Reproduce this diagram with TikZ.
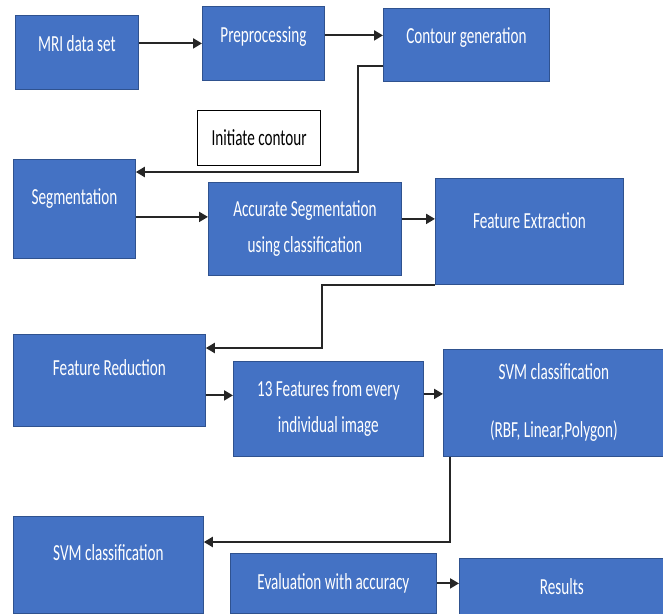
\documentclass[tikz,border=0pt]{standalone}
\usepackage{fontspec}
\setmainfont{Carlito}[FakeStretch=0.66]
\usetikzlibrary{arrows.meta}
\definecolor{boxblue}{HTML}{4472C4}
\definecolor{boxedge}{HTML}{2F528F}

\begin{document}
\begin{tikzpicture}[x=1pt, y=-1pt,
  font=\fontsize{23}{36}\selectfont,
  blk/.style={anchor=north west, draw=boxedge, line width=0.8pt, fill=boxblue, text=white, align=center, inner sep=2pt},
  lifted/.style={text height=17pt, text depth=#1},
  lifted/.default=20pt,
  flow/.style={-{Triangle[length=9pt,width=10pt]}, line width=2pt, draw=black!85}]
\useasboundingbox (0,0) rectangle (663,613);

\node(A) [blk, lifted=18pt, minimum width=123pt, minimum height=74pt] at (15,15) {MRI data set};
\node(B) [blk, lifted=18pt, minimum width=122pt, minimum height=74pt] at (202,6) {Preprocessing};
\node(C) [blk, lifted=19pt, minimum width=166pt, minimum height=73pt] at (383,8) {Contour generation};
\node(D) [anchor=north west, draw=black, line width=1.2pt, fill=white, minimum width=123pt, minimum height=55pt] at (197,110) {Initiate contour};
\node(E) [blk, lifted=25pt, minimum width=122pt, minimum height=99pt] at (13,159) {Segmentation};
\node(F) [blk, minimum width=193pt, minimum height=93pt] at (208,182) {Accurate Segmentation\\using classification};
\node(G) [blk, lifted=22pt, minimum width=188pt, minimum height=106pt] at (435,178) {Feature Extraction};
\node(H) [blk, lifted=26pt, minimum width=192pt, minimum height=92pt] at (13,334) {Feature Reduction};
\node(I) [blk, minimum width=190pt, minimum height=95pt] at (233,361) {13 Features from every\\individual image};
\node(J) [blk, minimum width=221pt, minimum height=107pt] at (443,349) {SVM classification\\[22pt](RBF, Linear,Polygon)};
\node(K) [blk, lifted=25pt, minimum width=190pt, minimum height=97pt] at (13,516) {SVM classification};
\node(L) [blk, minimum width=206pt, minimum height=60pt] at (230,553) {Evaluation with accuracy};
\node(M) [blk, minimum width=205pt, minimum height=56pt] at (459,558) {Results};

\coordinate(b1) at ([yshift=8pt]B.east);
\coordinate(c1) at ([yshift=-21pt]C.west);
\coordinate(e1) at ([yshift=-13pt]E.north east);
\coordinate(e2) at ([yshift=-8pt]E.east);
\coordinate(f1) at ([yshift=10pt]F.east);
\coordinate(h1) at ([yshift=-14pt]H.north east);
\coordinate(h2) at ([yshift=-15pt]H.east);
\coordinate(i1) at ([yshift=15pt]I.east);
\coordinate(j1) at ([xshift=7pt]J.south west);
\coordinate(k1) at ([yshift=-26pt]K.north east);

\draw[flow] (A.east |- B.west) -- (B.west);
\draw[flow] (b1) -- (b1 -| C.west);
\draw[flow] (c1) -- ++(-25,0) |- (e1);
\draw[flow] (e2) -- (e2 -| F.west);
\draw[flow] (f1) -- (f1 -| G.west);
\draw[flow] (G.south west) -- ++(-113,0) |- (h1);
\draw[flow] (h2) -- (h2 -| I.west);
\draw[flow] (i1) -- (i1 -| J.west);
\draw[flow] (j1) |- (k1);
\draw[flow] (L.east) -- (L.east -| M.west);
\end{tikzpicture}
\end{document}
